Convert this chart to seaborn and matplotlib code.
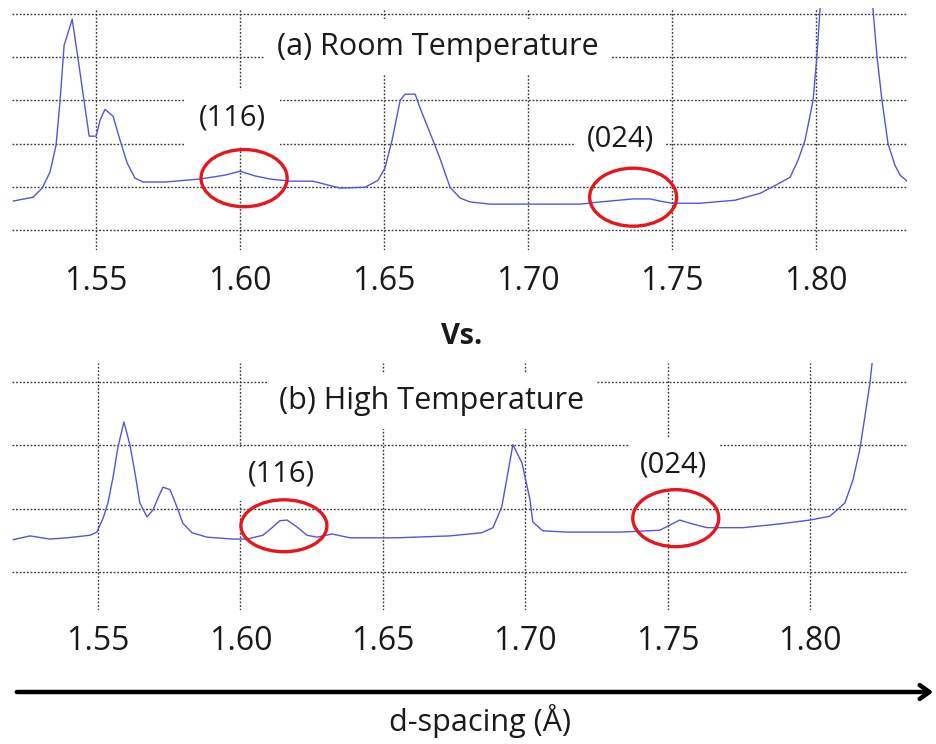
import matplotlib
matplotlib.use("Agg")
import matplotlib.pyplot as plt
from matplotlib.patches import Ellipse
import seaborn as sns

# ---- data ----
rt_d = [1.5212,1.5281,1.5313,1.5340,1.5361,1.5375,1.5389,1.5417,1.5438,1.5458,1.5476,1.5500,1.5514,1.5531,1.5559,
        1.5583,1.5608,1.5635,1.5663,1.5740,1.5861,1.5948,1.6000,1.6052,1.6104,1.6174,1.6253,1.6347,1.6434,1.6479,
        1.6503,1.6528,1.6556,1.6573,1.6608,1.6625,1.6660,1.6694,1.6729,1.6764,1.6799,1.6868,1.7181,1.7250,1.7365,
        1.7424,1.7458,1.7500,1.7597,1.7719,1.7806,1.7875,1.7910,1.7938,1.7962,1.7990,1.8003,1.8017,1.8060,1.8120,
        1.8175,1.8194,1.8212,1.8229,1.8250,1.8274,1.8292,1.8316]
rt_I = [0.67,0.76,0.97,1.34,1.96,3.00,4.27,4.87,3.93,3.00,2.17,2.17,2.54,2.79,2.63,
        2.08,1.55,1.20,1.11,1.11,1.18,1.27,1.36,1.25,1.18,1.13,1.13,0.97,0.99,1.15,
        1.43,2.08,3.00,3.14,3.14,2.82,2.24,1.66,0.99,0.74,0.65,0.60,0.60,0.65,0.72,
        0.72,0.67,0.62,0.62,0.69,0.85,1.09,1.22,1.62,2.08,3.00,4.00,5.40,8.5,9.5,
        8.0,5.40,4.00,3.00,2.00,1.50,1.27,1.13]

ht_d = [1.5202,1.5261,1.5331,1.5391,1.5472,1.5496,1.5518,1.5535,1.5553,1.5570,1.5591,1.5612,1.5630,1.5647,1.5672,
        1.5693,1.5711,1.5728,1.5753,1.5777,1.5798,1.5830,1.5883,1.5974,1.6023,1.6079,1.6114,1.6139,1.6164,1.6199,
        1.6234,1.6269,1.6322,1.6385,1.6550,1.6736,1.6848,1.6887,1.6918,1.6957,1.6989,1.7017,1.7027,1.7062,1.7147,
        1.7333,1.7473,1.7508,1.7543,1.7579,1.7638,1.7765,1.7895,1.8000,1.8070,1.8123,1.8151,1.8175,1.8193,1.8211,
        1.8228,1.8260]
ht_I = [0.51,0.57,0.52,0.54,0.58,0.63,0.85,1.09,1.50,1.97,2.37,2.01,1.56,1.09,0.87,
        0.98,1.17,1.34,1.30,1.03,0.77,0.62,0.55,0.52,0.52,0.58,0.71,0.81,0.82,0.71,
        0.58,0.55,0.60,0.54,0.54,0.57,0.62,0.70,1.03,2.01,1.72,1.14,0.79,0.65,0.63,
        0.63,0.66,0.74,0.82,0.77,0.70,0.70,0.76,0.82,0.88,1.09,1.45,1.93,2.45,2.99,
        3.70,5.0]

x_ticks = [1.55, 1.60, 1.65, 1.70, 1.75, 1.80]
x_tick_labels = ["1.55", "1.60", "1.65", "1.70", "1.75", "1.80"]
rt_grid_y = [0, 1, 2, 3, 4, 5]
ht_grid_y = [0, 1, 2, 3]

# highlighted reflections: (label, d-position, intensity centre)
rt_peaks = [("(116)", 1.6014, 1.20), ("(024)", 1.7365, 0.76)]
ht_peaks = [("(116)", 1.6153, 0.73), ("(024)", 1.7529, 0.85)]

# ---- styling ----
sns.set_style("white")
plt.rcParams["font.family"] = ["Open Sans", "DejaVu Sans"]

W, H = 937, 744
fig = plt.figure(figsize=(W / 100, H / 100), dpi=100)

def fx(px):
    return px / W

def fy(py):
    return 1 - py / H

line_color = "#5555d8"
grid_kw = dict(color="#3a3a3a", linestyle=(0, (1.3, 1.3)), linewidth=1.0)

ax1 = fig.add_axes([fx(12), fy(250), fx(907) - fx(12), fy(8) - fy(250)])
ax2 = fig.add_axes([fx(12), fy(610), fx(907) - fx(12), fy(363) - fy(610)])

for ax, d, I, xl, yl, gy, peaks, ew, eh in [
    (ax1, rt_d, rt_I, (1.5208, 1.8316), (-0.46, 5.13), rt_grid_y, rt_peaks, [0.0299, 0.0302], [1.32, 1.34]),
    (ax2, ht_d, ht_I, (1.5198, 1.8341), (-0.60, 3.30), ht_grid_y, ht_peaks, [0.0302, 0.0302], [0.82, 0.90]),
]:
    sns.lineplot(x=d, y=I, ax=ax, color=line_color, linewidth=1.0, zorder=3)
    ax.set_xlim(*xl)
    ax.set_ylim(*yl)
    ax.set_xticks(x_ticks)
    ax.set_xticklabels(x_tick_labels, fontsize=23, color="#1a1a1a")
    ax.set_yticks(gy)
    ax.set_yticklabels([])
    ax.tick_params(axis="both", length=0, pad=11)
    ax.grid(True, **grid_kw)
    ax.set_axisbelow(True)
    for s in ax.spines.values():
        s.set_visible(False)
    ax.set_xlabel("")
    ax.set_ylabel("")
    ax.patch.set_alpha(0)
    for (lab, dc, ic), w, h in zip(peaks, ew, eh):
        ax.add_patch(Ellipse((dc, ic), w, h, fill=False, edgecolor="#e5161c", linewidth=2.4, zorder=5))

txt_kw = dict(ha="center", va="center", color="#1a1a1a")

def boxed(ax, x, y, s, size, pad):
    ax.text(fx(x), fy(y), s, fontsize=size, transform=fig.transFigure, clip_on=False, zorder=4,
            bbox=dict(facecolor="white", edgecolor="none", pad=pad), **txt_kw)

boxed(ax1, 438, 47, "(a) Room Temperature", 22, 9)
boxed(ax2, 432, 401, "(b) High Temperature", 22, 9)
boxed(ax1, 232, 118, rt_peaks[0][0], 21, 10)
boxed(ax1, 621, 139, rt_peaks[1][0], 21, 8)
boxed(ax2, 281, 474, ht_peaks[0][0], 21, 9)
boxed(ax2, 674, 465, ht_peaks[1][0], 21, 8)

fig.text(fx(462), fy(337), "Vs.", fontsize=21, fontweight="bold", **txt_kw)
fig.text(fx(480), fy(721), "d-spacing (Å)", fontsize=22, **txt_kw)

fig.patches.append(matplotlib.patches.FancyArrowPatch(
    (fx(14), fy(692)), (fx(936), fy(692)), transform=fig.transFigure,
    arrowstyle="->,head_length=0.35,head_width=0.25", linewidth=3.2, color="black",
    mutation_scale=20))

fig.savefig("out.png", dpi=100)
